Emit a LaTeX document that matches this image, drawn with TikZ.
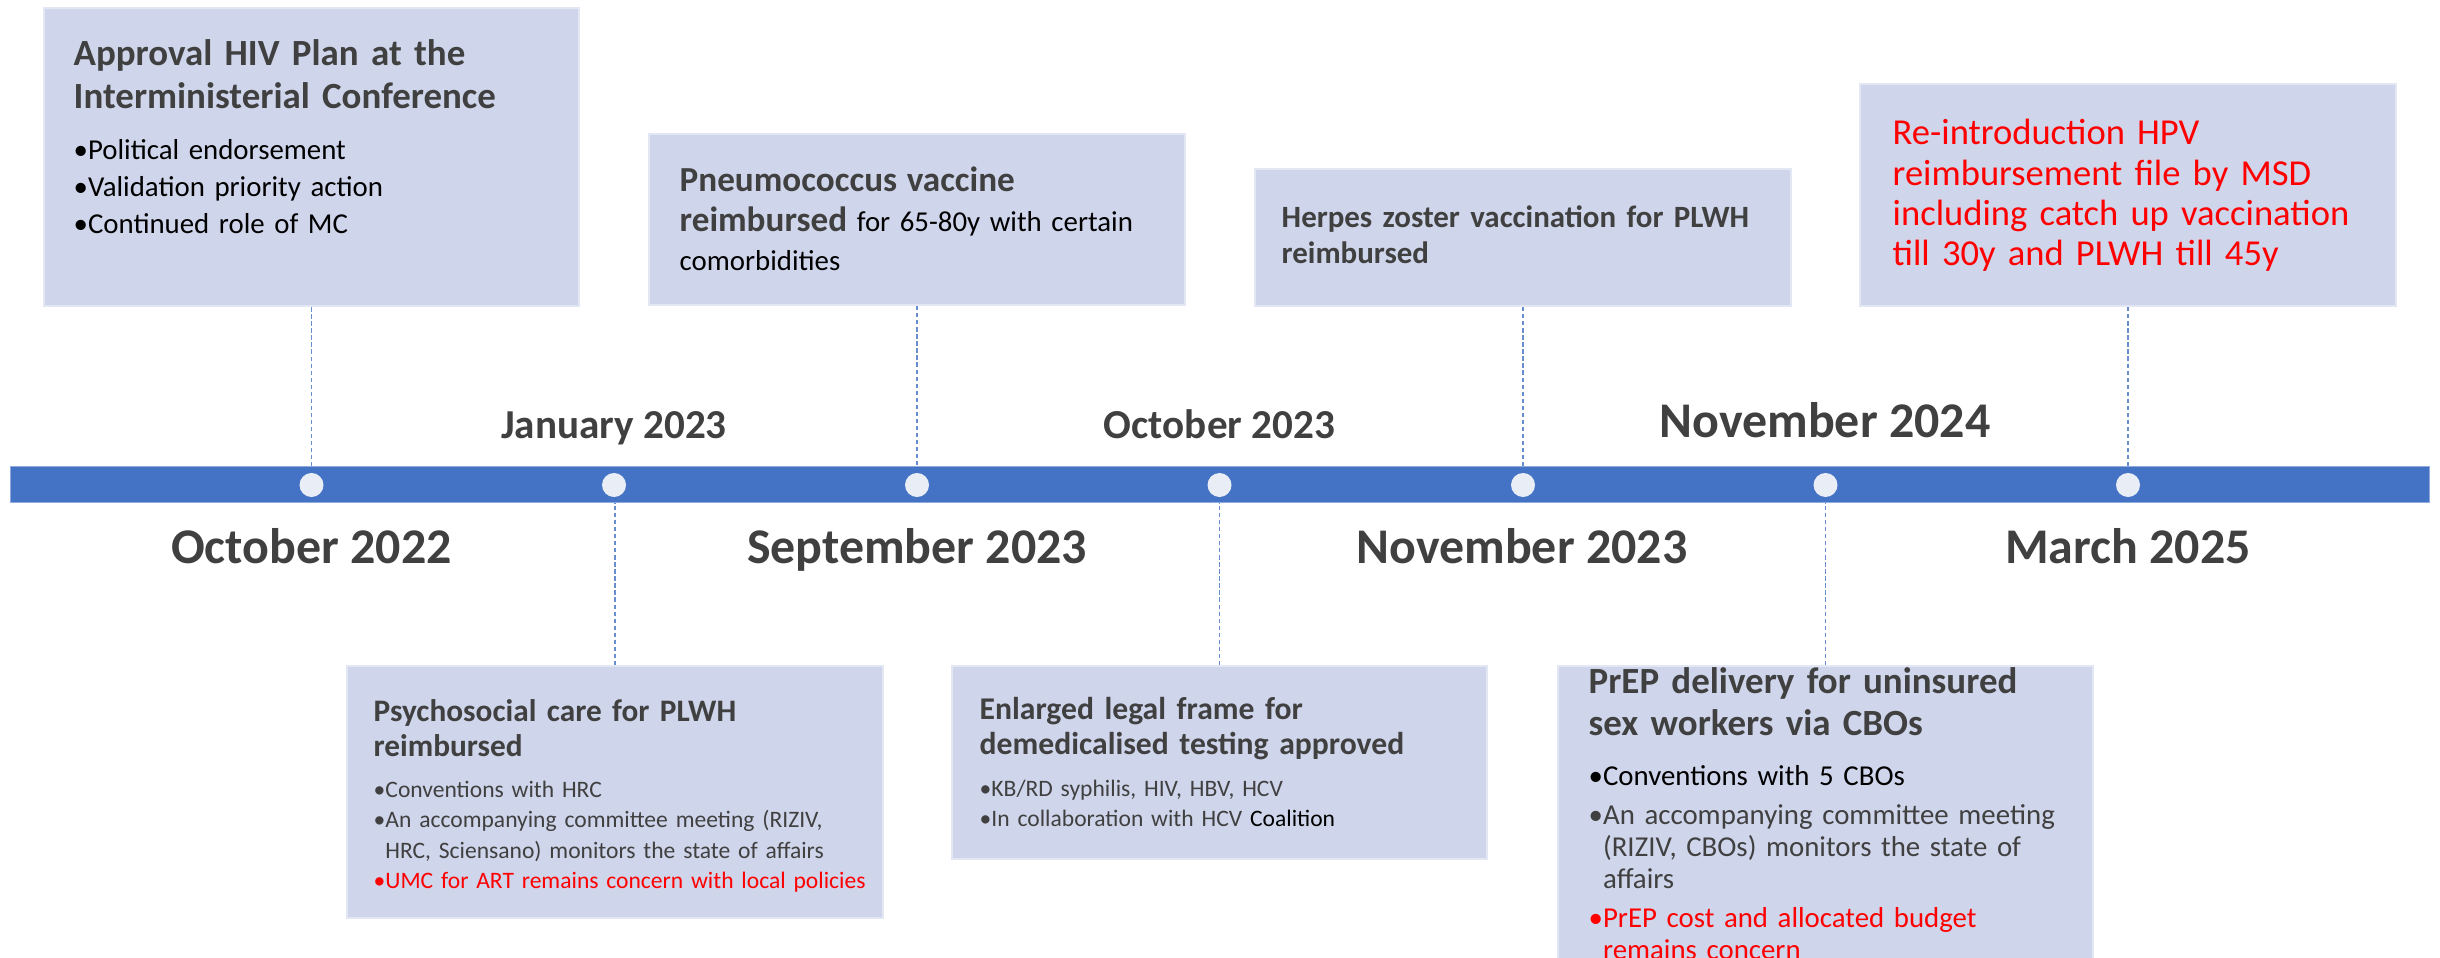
\documentclass[tikz,border=0pt]{standalone}
\usepackage{fontspec}
\setmainfont{Carlito}
\usepackage{tikz}
\usetikzlibrary{positioning}
\definecolor{barblue}{HTML}{4472C4}
\definecolor{baredge}{HTML}{8FAADC}
\definecolor{boxfill}{HTML}{CFD5EA}
\definecolor{boxedge}{HTML}{E3E7F3}
\definecolor{dotfill}{HTML}{E9EDF6}
\definecolor{txtgray}{HTML}{404040}
\definecolor{alertred}{HTML}{FF0000}
\newcommand{\bul}{•}
\newcommand{\bulgap}{\phantom{•}}

\begin{document}
\begin{tikzpicture}[x=0.01cm, y=-0.01cm,
  evbox/.style={rectangle, fill=boxfill, draw=boxedge, line width=0.6pt, anchor=north, minimum width=5.35cm, inner sep=0pt},
  evtext/.style={anchor=base west, inner sep=0pt, text width=5.2cm, align=left},
  daydot/.style={circle, fill=dotfill, minimum size=0.24cm, inner sep=0pt},
  link/.style={draw=barblue!80!white, line width=0.5pt, dash pattern=on 1.2pt off 0.8pt},
  datebig/.style={anchor=base, text=txtgray, font=\fontsize{14.2}{14.2}\selectfont\bfseries},
  datesmall/.style={anchor=base, text=txtgray, font=\fontsize{11.7}{11.7}\selectfont\bfseries}]

\useasboundingbox (0,0) rectangle (2440,958);
\clip (0,0) rectangle (2440,958);

% Event boxes above the line
\node[evbox, minimum height=2.98cm] (b1) at (311.5,7) {};
\node[evbox, minimum height=1.71cm] (b2) at (917,133) {};
\node[evbox, minimum height=1.37cm] (b3) at (1523,168) {};
\node[evbox, minimum height=2.22cm] (b4) at (2128,83) {};

% Event boxes below the line
\node[evbox, minimum height=2.52cm] (b5) at (615,665) {};
\node[evbox, minimum height=1.93cm] (b6) at (1219.5,665) {};
\node[evbox, minimum height=3.4cm] (b7) at (1825.5,665) {};

% Timeline bar
\node[rectangle, fill=barblue, draw=baredge, line width=0.01cm, minimum width=24.18cm, minimum height=0.35cm, inner sep=0pt] (tl) at (1220,484.5) {};

% Dots on the bar
\node[daydot] (d0) at (311.5,485) {};
\node[daydot] (d1) at (614,485) {};
\node[daydot] (d2) at (917,485) {};
\node[daydot] (d3) at (1219.5,485) {};
\node[daydot] (d4) at (1523,485) {};
\node[daydot] (d5) at (1825.5,485) {};
\node[daydot] (d6) at (2128,485) {};

% Dashed links between boxes and bar
\draw[link] (b1.south) -- (b1.south |- tl.north);
\draw[link] (b2.south) -- (b2.south |- tl.north);
\draw[link] (b3.south) -- (b3.south |- tl.north);
\draw[link] (b4.south) -- (b4.south |- tl.north);
\draw[link] (b5.north) -- (b5.north |- tl.south);
\draw[link] (b6.north) -- (b6.north |- tl.south);
\draw[link] (b7.north) -- (b7.north |- tl.south);

% Dates
\node[datebig] (m0) at (311.5,563) {October 2022};
\node[datesmall] (m1) at (614,439) {January 2023};
\node[datebig] (m2) at (917,563) {September 2023};
\node[datesmall] (m3) at (1219.5,439) {October 2023};
\node[datebig] (m4) at (1522,563) {November 2023};
\node[datebig] (m5) at (1825,437) {November 2024};
\node[datebig] (m6) at (2128,563) {March 2025};

% Box texts
\node[evtext, text=txtgray, font=\fontsize{10.5}{12}\selectfont\bfseries] (t1) at (73,66) {Approval HIV Plan at the\\Interministerial Conference};
\node[evtext, font=\fontsize{8.2}{10.4}\selectfont] (p1) at (73,160) {\bul Political endorsement\\\bul Validation priority action\\\bul Continued role of MC};

\node[evtext, font=\fontsize{8.2}{11.2}\selectfont] (t2) at (679,192) {{\fontsize{10}{11.2}\selectfont\bfseries\color{txtgray}Pneumococcus vaccine\\reimbursed} for 65-80y with certain\\comorbidities};

\node[evtext, text=txtgray, font=\fontsize{8.8}{10}\selectfont\bfseries] (t3) at (1281,228) {Herpes zoster vaccination for PLWH\\reimbursed};

\node[evtext, text=alertred, font=\fontsize{10.4}{11.4}\selectfont] (t4) at (1892,145) {Re-introduction HPV\\reimbursement file by MSD\\including catch up vaccination\\till 30y and PLWH till 45y};

\node[evtext, text=txtgray, font=\fontsize{8.9}{10.2}\selectfont\bfseries] (t5) at (373,721) {Psychosocial care for PLWH\\reimbursed};
\node[evtext, text=txtgray, font=\fontsize{6.7}{8.7}\selectfont] (p5) at (373,797) {\bul Conventions with HRC\\\bul An accompanying committee meeting (RIZIV,\\\bulgap HRC, Sciensano) monitors the state of affairs\\{\color{alertred}\bul UMC for ART remains concern with local policies}};

\node[evtext, text=txtgray, font=\fontsize{9}{10.2}\selectfont\bfseries] (t6) at (979,719) {Enlarged legal frame for\\demedicalised testing approved};
\node[evtext, text=txtgray, font=\fontsize{6.7}{8.6}\selectfont] (p6) at (979,796) {\bul KB/RD syphilis, HIV, HBV, HCV\\\bul In collaboration with HCV {\color{black}Coalition}};

\node[evtext, text=txtgray, font=\fontsize{10.5}{12}\selectfont\bfseries] (t7) at (1588,693) {PrEP delivery for uninsured\\sex workers via CBOs};
\node[evtext, text=txtgray, font=\fontsize{8.2}{9.1}\selectfont] (p7) at (1588,785) {{\color{black}\bul Conventions with 5 CBOs}\\[2pt]\bul An accompanying committee meeting\\\bulgap (RIZIV, CBOs) monitors the state of\\\bulgap affairs\\[2pt]{\color{alertred}\bul PrEP cost and allocated budget\\\bulgap remains concern}};

\end{tikzpicture}
\end{document}
